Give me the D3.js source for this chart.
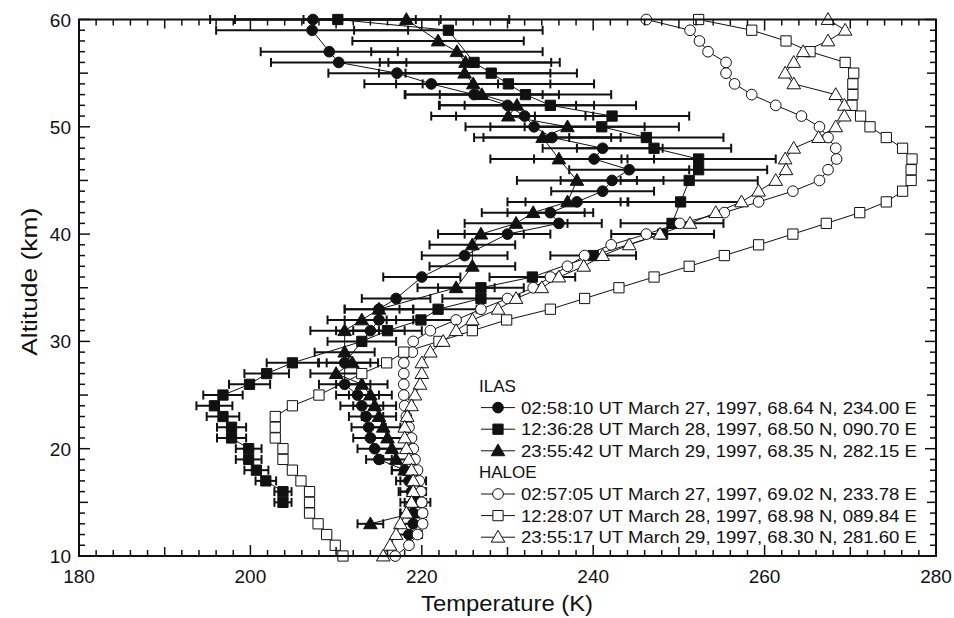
<!DOCTYPE html>
<html>
<head>
<meta charset="utf-8">
<script src="https://cdn.jsdelivr.net/npm/d3@7"></script>
<style>
body { margin: 0; background: #fff; }
svg text { font-family: "Liberation Sans", Arial, Helvetica, sans-serif; fill: #111; }
</style>
</head>
<body>
<script>
const width = 954, height = 618;

// ILAS profiles: altitude (km), temperature (K), error (K)
const ilas1Alt  = [60, 59, 57, 56, 55, 54, 53, 52, 51, 50, 49, 48, 47, 46, 45, 44, 43, 42, 41, 40, 38, 36, 34, 33, 32, 31, 28, 26, 25, 24, 23, 22, 21, 20, 19, 18, 17, 16, 15, 14, 13, 12];
const ilas1Temp = [207.3, 207.2, 209.2, 210.3, 217.1, 221.1, 226.1, 230.0, 232.0, 233.1, 235.2, 241.1, 240.1, 244.2, 242.2, 241.1, 238.1, 235.0, 236.0, 230.0, 225.0, 220.0, 217.0, 215.0, 215.0, 214.0, 211.0, 211.0, 212.5, 213.0, 213.5, 213.8, 214.0, 214.5, 215.0, 218.0, 218.5, 218.8, 219.0, 219.0, 219.0, 218.5];
const ilas1Err  = [12, 11.2, 8, 7.9, 8, 7.8, 8, 8, 8, 8, 8, 7, 7, 7, 6, 6, 6, 5, 5, 5, 5, 4.5, 4, 4, 4, 4, 3, 3, 2.5, 2.5, 2, 2, 2, 2, 1.5, 1.5, 1.5, 1.5, 1.5, 1.5, 1.5, 1.5];

const ilas2Alt  = [60, 59, 56, 55, 54, 53, 52, 51, 50, 49, 48, 47, 46, 45, 43, 41, 40, 38, 36, 35, 34, 33, 32, 31, 30, 28, 27, 26, 25, 24, 23, 22, 21, 20, 19, 18, 17, 16, 15];
const ilas2Temp = [210.2, 223.1, 226.1, 228.1, 230.1, 232.1, 235.0, 242.2, 241.0, 246.2, 247.1, 252.3, 252.3, 251.2, 250.2, 249.2, 248.1, 240.0, 232.9, 226.9, 226.9, 221.9, 219.9, 216.0, 213.0, 204.9, 201.9, 199.9, 196.8, 195.8, 196.8, 197.8, 197.8, 199.8, 199.8, 200.7, 201.8, 203.8, 203.8];
const ilas2Err  = [12, 11, 10, 10, 10, 10, 10, 9, 9, 9, 9, 9, 8, 8, 7, 6, 6, 5, 5, 5, 4.5, 4.5, 4, 4, 4, 3, 2.6, 2.4, 2.3, 2.1, 1.9, 1.7, 1.7, 1.5, 1.5, 1.4, 1.2, 1.0, 1.0];

const ilas3Alt  = [60, 58, 57, 56, 55, 54, 53, 52, 51, 50, 49, 47, 45, 43, 42, 41, 40, 39, 37, 35, 33, 32, 31, 29, 28, 27, 26, 25, 24, 23, 22, 21, 20, 19, 18, 17, 16, 15, 14, 13];
const ilas3Temp = [218.2, 221.9, 224.1, 225.1, 225.0, 226.0, 227.0, 231.1, 230.1, 237.0, 234.1, 236.0, 238.1, 237.0, 233.0, 231.0, 226.9, 225.9, 225.9, 224.0, 215.0, 213.0, 211.0, 211.0, 211.9, 210.0, 213.0, 214.0, 214.5, 215.0, 215.5, 216.0, 216.5, 217.0, 218.0, 219.0, 219.0, 219.5, 219.0, 214.0];
const ilas3Err  = [12, 10, 10, 10, 10, 9, 9, 9, 9, 9, 8, 8, 7, 7, 6, 6, 5, 5, 5, 4.5, 4, 4, 4, 3.5, 3, 3, 3, 2.5, 2.5, 2, 2, 2, 2, 1.5, 1.5, 1.5, 1.5, 1.5, 1.5, 1.5];

// HALOE profiles
const haloe1Alt  = [60, 59, 58, 57, 56, 55, 54, 53, 52, 51, 50, 49, 48, 47, 46, 45, 44, 43, 42, 41, 40, 39, 38, 37, 36, 35, 34, 33, 32, 31, 30, 29, 28, 27, 26, 25, 24, 23, 22, 21, 20, 19, 18, 17, 16, 15, 14, 13, 12, 11, 10];
const haloe1Temp = [246.2, 251.3, 252.4, 253.4, 255.5, 255.5, 256.5, 258.5, 261.3, 264.3, 266.4, 267.4, 268.3, 268.4, 267.4, 266.4, 263.3, 259.3, 255.3, 250.1, 246.2, 242.1, 239.0, 237.0, 235.0, 233.0, 230.0, 226.9, 224.0, 221.0, 219.0, 218.9, 217.9, 217.9, 217.9, 217.9, 218.0, 218.2, 218.5, 218.8, 219.0, 219.2, 219.5, 219.7, 219.9, 220.0, 220.1, 220.1, 219.5, 218.5, 216.9];

const haloe2Alt  = [60, 59, 58, 57, 56, 55, 54, 53, 52, 51, 50, 49, 48, 47, 46, 45, 44, 43, 42, 41, 40, 39, 38, 37, 36, 35, 34, 33, 32, 31, 30, 29, 28, 27, 25, 24, 23, 22, 21, 20, 19, 18, 17, 16, 15, 14, 13, 12, 11, 10];
const haloe2Temp = [252.3, 258.5, 262.5, 265.3, 269.4, 270.4, 270.3, 270.3, 270.2, 271.2, 272.3, 274.2, 276.1, 277.2, 277.1, 277.1, 276.1, 274.2, 271.1, 267.2, 263.3, 259.3, 255.3, 251.2, 247.1, 243.0, 239.0, 235.0, 229.9, 225.9, 222.0, 217.9, 215.9, 213.0, 208.0, 204.9, 202.9, 202.9, 202.9, 203.8, 203.8, 204.9, 205.9, 206.9, 206.9, 206.9, 207.9, 208.9, 209.9, 210.8];

const haloe3Alt  = [60, 59, 58, 57, 56, 55, 54, 53, 52, 51, 50, 49, 48, 47, 46, 45, 44, 43, 42, 41, 40, 39, 38, 37, 36, 35, 34, 33, 32, 31, 30, 29, 28, 27, 26, 25, 24, 23, 22, 21, 20, 19, 18, 17, 16, 15, 14, 13, 12, 11, 10];
const haloe3Temp = [267.4, 269.4, 267.4, 264.5, 263.4, 262.4, 263.4, 268.3, 269.3, 269.3, 268.3, 266.3, 263.4, 262.4, 262.5, 261.3, 259.3, 257.3, 254.3, 251.3, 247.8, 244.2, 241.1, 238.9, 236.0, 234.0, 231.0, 228.9, 225.9, 224.0, 222.5, 221.0, 220.0, 220.0, 219.8, 219.2, 218.8, 218.3, 218.0, 218.0, 218.2, 218.5, 218.8, 219.0, 219.0, 218.8, 218.2, 217.5, 217.0, 216.3, 215.5];

const legendTitles = ["ILAS", "HALOE"];
const ilasLabels = [
  "02:58:10 UT March 27, 1997, 68.64 N, 234.00 E",
  "12:36:28 UT March 28, 1997, 68.50 N, 090.70 E",
  "23:55:42 UT March 29, 1997, 68.35 N, 282.15 E"
];
const haloeLabels = [
  "02:57:05 UT March 27, 1997, 69.02 N, 233.78 E",
  "12:28:07 UT March 28, 1997, 68.98 N, 089.84 E",
  "23:55:17 UT March 29, 1997, 68.30 N, 281.60 E"
];

const xTicks = [180, 200, 220, 240, 260, 280];
const yTicks = [10, 20, 30, 40, 50, 60];

const zip = (alt, temp, err) => alt.map((a, i) => ({ alt: a, temp: temp[i], err: err ? err[i] : 0 }));

const series = [
  { key: "ilas1", data: zip(ilas1Alt, ilas1Temp, ilas1Err), shape: "circle", filled: true, label: ilasLabels[0] },
  { key: "ilas2", data: zip(ilas2Alt, ilas2Temp, ilas2Err), shape: "square", filled: true, label: ilasLabels[1] },
  { key: "ilas3", data: zip(ilas3Alt, ilas3Temp, ilas3Err), shape: "triangle", filled: true, label: ilasLabels[2] },
  { key: "haloe1", data: zip(haloe1Alt, haloe1Temp), shape: "circle", filled: false, label: haloeLabels[0] },
  { key: "haloe2", data: zip(haloe2Alt, haloe2Temp), shape: "square", filled: false, label: haloeLabels[1] },
  { key: "haloe3", data: zip(haloe3Alt, haloe3Temp), shape: "triangle", filled: false, label: haloeLabels[2] }
];

const svg = d3.select("body").append("svg")
  .attr("width", width)
  .attr("height", height);

const x = d3.scaleLinear().domain([180, 280]).range([79, 936]);
const y = d3.scaleLinear().domain([10, 60]).range([556, 19.5]);

// marker paths
const symSize = { circle: 90, square: 105, triangle: 80 };
const symType = { circle: d3.symbolCircle, square: d3.symbolSquare, triangle: d3.symbolTriangle };
const symbol = (shape, k = 1) => d3.symbol().type(symType[shape]).size(symSize[shape] * k)();

const plot = svg.append("g");

// error bars first
series.filter(s => s.filled).forEach(s => {
  const g = plot.append("g").attr("class", "err " + s.key)
    .attr("stroke", "#111").attr("stroke-width", 2);
  g.selectAll("line.bar").data(s.data).enter().append("line")
    .attr("x1", d => x(d.temp - d.err)).attr("x2", d => x(d.temp + d.err))
    .attr("y1", d => y(d.alt)).attr("y2", d => y(d.alt));
  [-1, 1].forEach(side => {
    g.selectAll("line.cap" + side).data(s.data).enter().append("line")
      .attr("x1", d => x(d.temp + side * d.err)).attr("x2", d => x(d.temp + side * d.err))
      .attr("y1", d => y(d.alt) - 4.5).attr("y2", d => y(d.alt) + 4.5);
  });
});

const line = d3.line().x(d => x(d.temp)).y(d => y(d.alt));

series.forEach(s => {
  plot.append("path").datum(s.data)
    .attr("d", line)
    .attr("fill", "none")
    .attr("stroke", "#111")
    .attr("stroke-width", 1);
});

series.forEach(s => {
  plot.append("g").selectAll("path").data(s.data).enter().append("path")
    .attr("d", symbol(s.shape))
    .attr("transform", d => `translate(${x(d.temp)},${y(d.alt) + (s.shape === "triangle" ? 1 : 0)})`)
    .attr("fill", s.filled ? "#111" : "#fff")
    .attr("stroke", "#111")
    .attr("stroke-width", 1);
});

// frame and ticks
const axes = svg.append("g").attr("stroke", "#111");
axes.append("rect")
  .attr("x", x(180)).attr("y", y(60))
  .attr("width", x(280) - x(180)).attr("height", y(10) - y(60))
  .attr("fill", "none").attr("stroke-width", 2);

const xMinor = d3.range(180, 281, 2);
const yMinor = d3.range(10, 61, 1);
const tickLen = (v, major, mid) => v % major === 0 ? 11 : (v % mid === 0 ? 9 : 6);

axes.selectAll("line.xb").data(xMinor).enter().append("line")
  .attr("x1", d => x(d)).attr("x2", d => x(d))
  .attr("y1", y(10)).attr("y2", d => y(10) - tickLen(d, 20, 10))
  .attr("stroke-width", 1.5);
axes.selectAll("line.xt").data(xMinor).enter().append("line")
  .attr("x1", d => x(d)).attr("x2", d => x(d))
  .attr("y1", y(60)).attr("y2", d => y(60) + tickLen(d, 20, 10))
  .attr("stroke-width", 1.5);
axes.selectAll("line.yl").data(yMinor).enter().append("line")
  .attr("y1", d => y(d)).attr("y2", d => y(d))
  .attr("x1", x(180)).attr("x2", d => x(180) + tickLen(d, 10, 5))
  .attr("stroke-width", 1.5);
axes.selectAll("line.yr").data(yMinor).enter().append("line")
  .attr("y1", d => y(d)).attr("y2", d => y(d))
  .attr("x1", x(280)).attr("x2", d => x(280) - tickLen(d, 10, 5))
  .attr("stroke-width", 1.5);

svg.append("g").selectAll("text").data(xTicks).enter().append("text")
  .attr("x", d => x(d)).attr("y", 583)
  .attr("text-anchor", "middle")
  .attr("font-size", 19)
  .text(d => d);
svg.append("g").selectAll("text").data(yTicks).enter().append("text")
  .attr("x", 71).attr("y", d => y(d) + 7)
  .attr("text-anchor", "end")
  .attr("font-size", 19)
  .text(d => d);

svg.append("text")
  .attr("x", 507).attr("y", 611)
  .attr("text-anchor", "middle")
  .attr("font-size", 22)
  .attr("textLength", 172).attr("lengthAdjust", "spacingAndGlyphs")
  .text("Temperature (K)");
svg.append("text")
  .attr("transform", `translate(37,${(y(10) + y(60)) / 2 - 6}) rotate(-90)`)
  .attr("text-anchor", "middle")
  .attr("font-size", 22)
  .attr("textLength", 148).attr("lengthAdjust", "spacingAndGlyphs")
  .text("Altitude (km)");

// legend
const legend = svg.append("g");
const rowStep = 21.6, row0 = 386;
const legendRows = [
  { title: legendTitles[0] },
  series[0], series[1], series[2],
  { title: legendTitles[1] },
  series[3], series[4], series[5]
];
legendRows.forEach((r, i) => {
  const cy = row0 + i * rowStep;
  if (r.title) {
    legend.append("text").attr("x", 479).attr("y", cy + 6)
      .attr("font-size", 17).text(r.title);
    return;
  }
  legend.append("line")
    .attr("x1", 481).attr("x2", 515).attr("y1", cy).attr("y2", cy)
    .attr("stroke", "#111").attr("stroke-width", 1);
  legend.append("path")
    .attr("d", symbol(r.shape))
    .attr("transform", `translate(498,${cy + (r.shape === "triangle" ? 1 : 0)})`)
    .attr("fill", r.filled ? "#111" : "#fff")
    .attr("stroke", "#111");
  legend.append("text").attr("x", 521).attr("y", cy + 6)
    .attr("font-size", 17)
    .attr("textLength", 396).attr("lengthAdjust", "spacingAndGlyphs")
    .text(r.label);
});
</script>
</body>
</html>
